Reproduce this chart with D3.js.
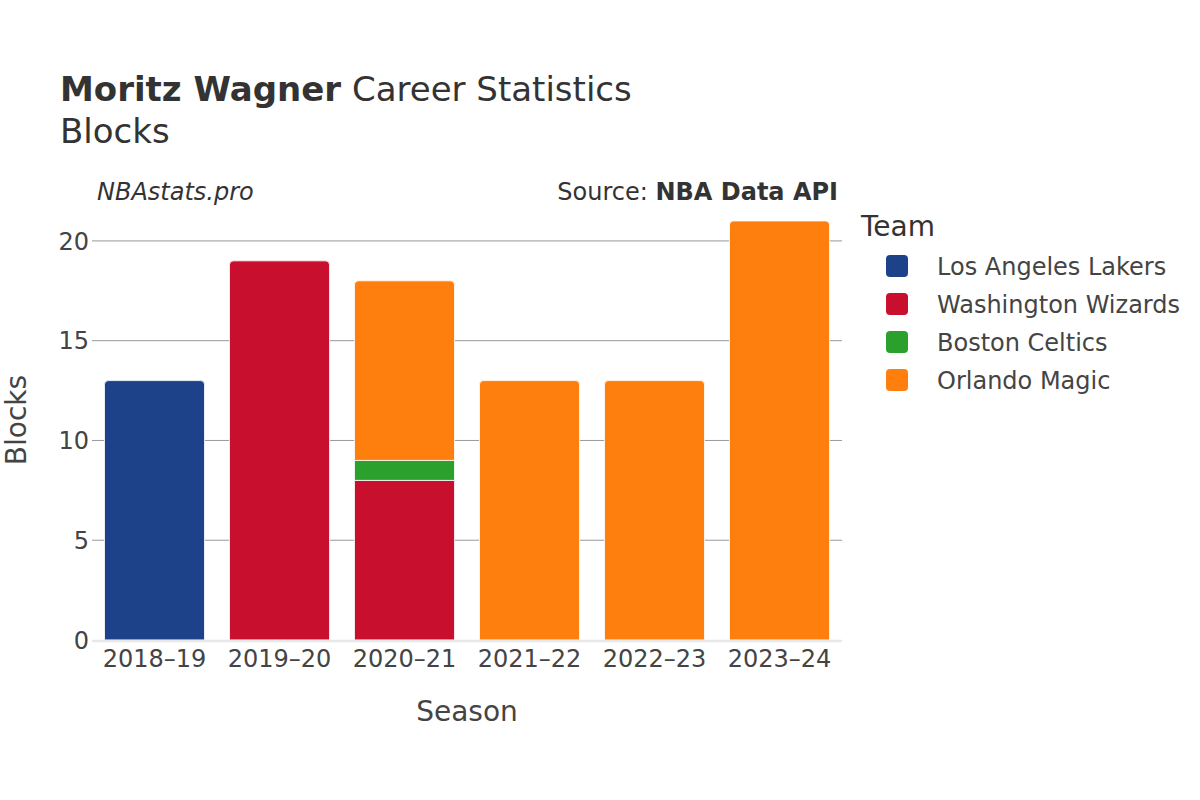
<!DOCTYPE html>
<html>
<head>
<meta charset="utf-8">
<script src="https://cdn.jsdelivr.net/npm/d3@7"></script>
<style>
  body { margin: 0; background: #fff; }
  svg { font-family: "DejaVu Sans", sans-serif; }
</style>
</head>
<body>
<svg id="chart" width="1200" height="800"></svg>
<script>
const seasons = ["2018–19", "2019–20", "2020–21", "2021–22", "2022–23", "2023–24"];
const teams = ["Los Angeles Lakers", "Washington Wizards", "Boston Celtics", "Orlando Magic"];
const teamColors = ["#1d428a", "#c8102e", "#2ca02c", "#ff7f0e"];
const lakersBlocks  = [13, 0, 0, 0, 0, 0];
const wizardsBlocks = [0, 19, 8, 0, 0, 0];
const celticsBlocks = [0, 0, 1, 0, 0, 0];
const magicBlocks   = [0, 0, 9, 13, 13, 21];
const yTicks = [0, 5, 10, 15, 20];

const seriesValues = [lakersBlocks, wizardsBlocks, celticsBlocks, magicBlocks];
const rows = seasons.map((s, i) => {
  const r = { season: s };
  teams.forEach((t, j) => { r[t] = seriesValues[j][i]; });
  return r;
});

const svg = d3.select("#chart");
const margin = { left: 92, right: 842, top: 200, bottom: 640 };

const x = d3.scaleBand().domain(seasons).range([margin.left, margin.right]).paddingInner(0.2).paddingOuter(0.1);
const y = d3.scaleLinear().domain([0, 22.05]).range([margin.bottom, margin.top]);
const color = d3.scaleOrdinal().domain(teams).range(teamColors);

// gridlines
svg.append("g").selectAll("line").data(yTicks.filter(d => d > 0)).join("line")
  .attr("x1", margin.left).attr("x2", margin.right)
  .attr("y1", d => y(d)).attr("y2", d => y(d))
  .attr("stroke", "#999").attr("stroke-width", 1);

// stacked bars
const stack = d3.stack().keys(teams)(rows);
const topKey = seasons.map((s, i) => {
  let k = null;
  teams.forEach((t, j) => { if (seriesValues[j][i] > 0) k = t; });
  return k;
});

const r = 4;
function barPath(x0, y0, w, h, rounded) {
  if (!rounded || h < r) return `M${x0},${y0}h${w}v${h}h${-w}Z`;
  return `M${x0},${y0 + h}V${y0 + r}Q${x0},${y0} ${x0 + r},${y0}H${x0 + w - r}Q${x0 + w},${y0} ${x0 + w},${y0 + r}V${y0 + h}Z`;
}

const gBars = svg.append("g");
stack.forEach(layer => {
  const key = layer.key;
  gBars.append("g").selectAll("path").data(layer.filter(d => d[1] - d[0] > 0)).join("path")
    .attr("d", d => {
      const idx = seasons.indexOf(d.data.season);
      const x0 = x(d.data.season);
      const yTop = y(d[1]);
      const h = y(d[0]) - y(d[1]);
      return barPath(x0, yTop, x.bandwidth(), h, topKey[idx] === key);
    })
    .attr("fill", color(key))
    .attr("stroke", "#fff").attr("stroke-width", 0.8);
});

// zero line
svg.append("line").attr("x1", margin.left).attr("x2", margin.right)
  .attr("y1", y(0) + 1).attr("y2", y(0) + 1)
  .attr("stroke", "#e8e8e8").attr("stroke-width", 2.5);

// y tick labels
svg.append("g").selectAll("text").data(yTicks).join("text")
  .attr("x", 89).attr("y", d => y(d)).attr("dy", "0.36em")
  .attr("text-anchor", "end").attr("font-size", 24).attr("fill", "#444")
  .text(d => d);

// x tick labels
svg.append("g").selectAll("text").data(seasons).join("text")
  .attr("x", d => x(d) + x.bandwidth() / 2).attr("y", 667)
  .attr("text-anchor", "middle").attr("font-size", 24).attr("fill", "#444")
  .text(d => d);

// axis titles
svg.append("text").attr("x", 467).attr("y", 721).attr("text-anchor", "middle")
  .attr("font-size", 28).attr("fill", "#444").text("Season");
svg.append("text").attr("transform", "translate(26,420) rotate(-90)").attr("text-anchor", "middle")
  .attr("font-size", 28).attr("fill", "#444").text("Blocks");

// title
const title = svg.append("text").attr("x", 60).attr("y", 101).attr("font-size", 34).attr("fill", "#333");
title.append("tspan").attr("font-weight", "bold").text("Moritz Wagner");
title.append("tspan").text(" Career Statistics");
svg.append("text").attr("x", 60).attr("y", 143).attr("font-size", 34).attr("fill", "#333").text("Blocks");

svg.append("text").attr("x", 97).attr("y", 200).attr("font-size", 24).attr("font-style", "italic")
  .attr("fill", "#333").text("NBAstats.pro");
const src = svg.append("text").attr("x", 838).attr("y", 200).attr("font-size", 24)
  .attr("text-anchor", "end").attr("fill", "#333");
src.append("tspan").text("Source: ");
src.append("tspan").attr("font-weight", "bold").text("NBA Data API");

// legend
svg.append("text").attr("x", 861).attr("y", 236).attr("font-size", 28).attr("fill", "#333").text("Team");
const leg = svg.append("g").selectAll("g").data(teams).join("g")
  .attr("transform", (d, i) => `translate(0,${266 + i * 38})`);
leg.append("rect").attr("x", 886).attr("y", -11).attr("width", 22).attr("height", 22)
  .attr("rx", 4).attr("fill", d => color(d));
leg.append("text").attr("x", 937).attr("y", 0).attr("dy", "0.36em")
  .attr("font-size", 24).attr("fill", "#444").text(d => d);
</script>
</body>
</html>
